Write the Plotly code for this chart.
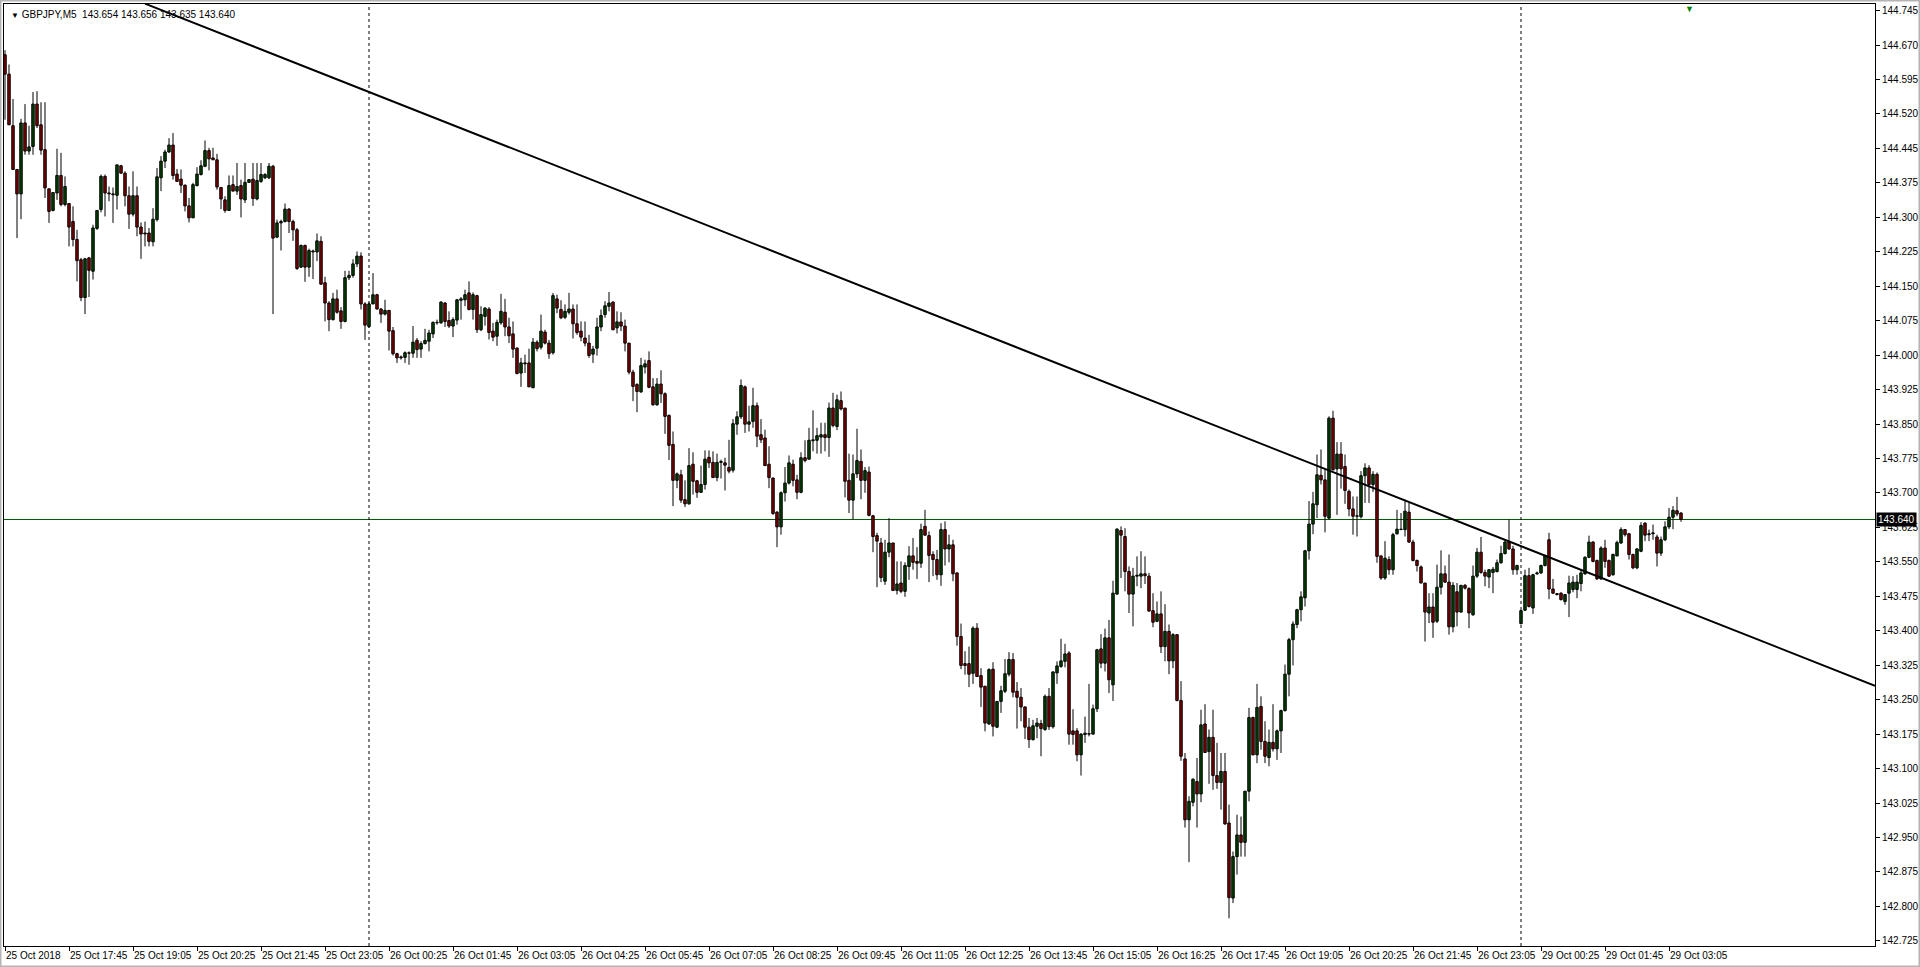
import numpy as np
import plotly.graph_objects as go

# GBPJPY M5 bars, 25 Oct 2018 16:25 -> 29 Oct 2018 03:20
opens = [
    144.649, 144.607, 144.495, 144.400, 144.347, 144.501, 144.440, 144.450, 144.542, 144.497,
    144.443, 144.358, 144.311, 144.349, 144.387, 144.324, 144.326, 144.287, 144.248, 144.204,
    144.122, 144.208, 144.179, 144.272, 144.313, 144.385, 144.349, 144.347, 144.344, 144.408,
    144.392, 144.343, 144.303, 144.343, 144.275, 144.262, 144.262, 144.243, 144.291, 144.382,
    144.418, 144.438, 144.453, 144.390, 144.379, 144.366, 144.321, 144.295, 144.365, 144.389,
    144.407, 144.441, 144.425, 144.421, 144.361, 144.334, 144.311, 144.367, 144.353, 144.365,
    144.334, 144.372, 144.379, 144.336, 144.374, 144.382, 144.382, 144.407, 144.253, 144.284,
    144.287, 144.314, 144.287, 144.269, 144.188, 144.235, 144.188, 144.223, 144.221, 144.244,
    144.154, 144.110, 144.074, 144.119, 144.093, 144.070, 144.165, 144.170, 144.195, 144.212,
    144.108, 144.059, 144.108, 144.128, 144.097, 144.086, 144.094, 144.050, 144.000, 143.993,
    143.992, 144.002, 144.001, 144.029, 144.010, 144.022, 144.027, 144.043, 144.068, 144.067,
    144.110, 144.072, 144.060, 144.073, 144.116, 144.117, 144.132, 144.096, 144.126, 144.052,
    144.081, 144.097, 144.049, 144.038, 144.067, 144.090, 144.058, 144.043, 144.012, 143.958,
    143.980, 143.980, 143.926, 144.025, 144.014, 144.047, 144.023, 144.002, 144.119, 144.096,
    144.079, 144.090, 144.097, 144.065, 144.049, 144.034, 144.023, 143.999, 144.012, 144.058,
    144.085, 144.103, 144.112, 144.056, 144.069, 144.060, 144.023, 143.960, 143.933, 143.917,
    143.971, 143.985, 143.928, 143.889, 143.934, 143.913, 143.866, 143.803, 143.725, 143.737,
    143.683, 143.674, 143.760, 143.724, 143.699, 143.716, 143.775, 143.764, 143.731, 143.764,
    143.763, 143.753, 143.747, 143.847, 143.863, 143.928, 143.847, 143.853, 143.887, 143.824,
    143.817, 143.760, 143.730, 143.656, 143.624, 143.698, 143.719, 143.760, 143.726, 143.699,
    143.774, 143.771, 143.811, 143.812, 143.819, 143.824, 143.818, 143.882, 143.842, 143.898,
    143.882, 143.725, 143.682, 143.739, 143.766, 143.725, 143.743, 143.648, 143.605, 143.589,
    143.506, 143.569, 143.589, 143.486, 143.502, 143.484, 143.538, 143.561, 143.549, 143.545,
    143.625, 143.605, 143.564, 143.553, 143.520, 143.618, 143.576, 143.585, 143.524, 143.386,
    143.327, 143.327, 143.306, 143.404, 143.301, 143.278, 143.196, 143.315, 143.189, 143.245,
    143.267, 143.304, 143.336, 143.267, 143.254, 143.233, 143.189, 143.162, 143.191, 143.197,
    143.184, 143.256, 143.190, 143.307, 143.321, 143.332, 143.350, 143.181, 143.181, 143.129,
    143.173, 143.175, 143.174, 143.229, 143.359, 143.328, 143.383, 143.281, 143.478, 143.616,
    143.603, 143.527, 143.478, 143.517, 143.517, 143.522, 143.517, 143.442, 143.419, 143.435,
    143.364, 143.397, 143.333, 143.390, 143.247, 143.120, 142.988, 143.026, 143.071, 143.044,
    143.196, 143.136, 143.167, 143.084, 143.069, 143.093, 142.981, 142.818, 142.908, 142.955,
    142.939, 143.050, 143.210, 143.129, 143.234, 143.158, 143.123, 143.156, 143.142, 143.181,
    143.225, 143.304, 143.379, 143.412, 143.444, 143.470, 143.572, 143.630, 143.672, 143.736,
    143.726, 143.643, 143.860, 143.750, 143.782, 143.755, 143.701, 143.663, 143.647, 143.646,
    143.735, 143.752, 143.716, 143.738, 143.561, 143.513, 143.553, 143.531, 143.609, 143.618,
    143.618, 143.656, 143.591, 143.551, 143.537, 143.502, 143.437, 143.450, 143.419, 143.493,
    143.522, 143.504, 143.407, 143.483, 143.439, 143.497, 143.490, 143.433, 143.517, 143.569,
    143.525, 143.515, 143.525, 143.527, 143.546, 143.566, 143.591, 143.576, 143.531, 143.414,
    143.443, 143.518, 143.448, 143.522, 143.524, 143.540, 143.596, 143.489, 143.479, 143.480,
    143.462, 143.480, 143.488, 143.488, 143.501, 143.522, 143.558, 143.591, 143.551, 143.511,
    143.578, 143.551, 143.520, 143.561, 143.589, 143.618, 143.609, 143.564, 143.535, 143.571,
    143.632, 143.607, 143.611, 143.602, 143.567, 143.596, 143.624, 143.645, 143.659, 143.654,
]

highs = [
    144.659, 144.628, 144.553, 144.400, 144.510, 144.542, 144.495, 144.568, 144.570, 144.546,
    144.546, 144.358, 144.350, 144.445, 144.436, 144.385, 144.327, 144.320, 144.269, 144.208,
    144.208, 144.210, 144.280, 144.311, 144.389, 144.389, 144.363, 144.361, 144.410, 144.410,
    144.396, 144.363, 144.396, 144.363, 144.285, 144.287, 144.273, 144.316, 144.403, 144.429,
    144.443, 144.468, 144.479, 144.401, 144.400, 144.367, 144.338, 144.371, 144.405, 144.420,
    144.463, 144.447, 144.447, 144.434, 144.361, 144.342, 144.387, 144.387, 144.414, 144.378,
    144.414, 144.379, 144.414, 144.414, 144.414, 144.392, 144.414, 144.410, 144.291, 144.291,
    144.326, 144.316, 144.291, 144.273, 144.237, 144.237, 144.228, 144.226, 144.261, 144.255,
    144.167, 144.114, 144.132, 144.139, 144.101, 144.180, 144.180, 144.205, 144.222, 144.220,
    144.112, 144.112, 144.175, 144.130, 144.099, 144.117, 144.094, 144.058, 144.002, 143.996,
    144.005, 144.005, 144.060, 144.034, 144.027, 144.054, 144.052, 144.070, 144.074, 144.114,
    144.112, 144.092, 144.079, 144.119, 144.123, 144.139, 144.157, 144.133, 144.128, 144.103,
    144.101, 144.101, 144.067, 144.074, 144.130, 144.119, 144.078, 144.070, 144.014, 143.991,
    143.998, 144.011, 144.034, 144.029, 144.085, 144.052, 144.030, 144.132, 144.128, 144.116,
    144.107, 144.132, 144.107, 144.107, 144.070, 144.070, 144.041, 144.017, 144.078, 144.096,
    144.114, 144.134, 144.114, 144.092, 144.090, 144.074, 144.023, 143.965, 143.936, 143.991,
    143.987, 144.005, 143.947, 143.947, 143.964, 143.916, 143.868, 143.831, 143.742, 143.748,
    143.725, 143.795, 143.786, 143.726, 143.757, 143.790, 143.790, 143.788, 143.783, 143.770,
    143.774, 143.813, 143.858, 143.875, 143.944, 143.931, 143.887, 143.926, 143.894, 143.858,
    143.835, 143.799, 143.731, 143.658, 143.701, 143.754, 143.779, 143.770, 143.737, 143.786,
    143.812, 143.839, 143.877, 143.839, 143.850, 143.850, 143.894, 143.915, 143.911, 143.918,
    143.882, 143.783, 143.781, 143.837, 143.792, 143.754, 143.755, 143.650, 143.611, 143.600,
    143.596, 143.643, 143.589, 143.549, 143.549, 143.547, 143.582, 143.600, 143.580, 143.631,
    143.661, 143.614, 143.571, 143.574, 143.632, 143.636, 143.607, 143.596, 143.525, 143.414,
    143.354, 143.364, 143.408, 143.415, 143.317, 143.278, 143.317, 143.330, 143.245, 143.279,
    143.337, 143.352, 143.350, 143.287, 143.274, 143.234, 143.209, 143.205, 143.209, 143.205,
    143.260, 143.274, 143.310, 143.332, 143.381, 143.370, 143.354, 143.228, 143.187, 143.176,
    143.212, 143.283, 143.238, 143.359, 143.391, 143.403, 143.422, 143.507, 143.621, 143.625,
    143.621, 143.538, 143.535, 143.560, 143.571, 143.560, 143.524, 143.480, 143.462, 143.484,
    143.456, 143.412, 143.393, 143.390, 143.289, 143.133, 143.039, 143.078, 143.122, 143.227,
    143.239, 143.184, 143.227, 143.155, 143.133, 143.133, 143.021, 142.919, 142.999, 142.995,
    143.050, 143.231, 143.212, 143.283, 143.256, 143.202, 143.184, 143.239, 143.184, 143.227,
    143.325, 143.383, 143.419, 143.446, 143.484, 143.574, 143.680, 143.700, 143.781, 143.792,
    143.748, 143.864, 143.876, 143.808, 143.808, 143.781, 143.705, 143.690, 143.690, 143.745,
    143.762, 143.758, 143.745, 143.742, 143.561, 143.593, 143.560, 143.611, 143.661, 143.654,
    143.683, 143.676, 143.596, 143.553, 143.540, 143.502, 143.480, 143.480, 143.542, 143.573,
    143.540, 143.564, 143.504, 143.502, 143.498, 143.500, 143.493, 143.540, 143.578, 143.602,
    143.531, 143.532, 143.537, 143.553, 143.583, 143.596, 143.640, 143.583, 143.542, 143.444,
    143.531, 143.535, 143.522, 143.527, 143.542, 143.564, 143.611, 143.511, 143.480, 143.482,
    143.478, 143.518, 143.517, 143.520, 143.531, 143.560, 143.605, 143.593, 143.553, 143.582,
    143.596, 143.553, 143.566, 143.594, 143.623, 143.619, 143.611, 143.566, 143.578, 143.634,
    143.634, 143.618, 143.629, 143.607, 143.603, 143.636, 143.665, 143.669, 143.689, 143.656,
]

lows = [
    144.508, 144.497, 144.400, 144.251, 144.292, 144.432, 144.432, 144.432, 144.490, 144.432,
    144.338, 144.284, 144.309, 144.334, 144.320, 144.320, 144.233, 144.233, 144.157, 144.114,
    144.086, 144.123, 144.161, 144.269, 144.307, 144.298, 144.331, 144.284, 144.313, 144.391,
    144.320, 144.271, 144.298, 144.255, 144.206, 144.233, 144.233, 144.233, 144.287, 144.353,
    144.403, 144.436, 144.378, 144.374, 144.349, 144.309, 144.285, 144.295, 144.363, 144.387,
    144.405, 144.398, 144.421, 144.356, 144.314, 144.306, 144.311, 144.353, 144.345, 144.296,
    144.327, 144.371, 144.321, 144.333, 144.371, 144.379, 144.379, 144.086, 144.251, 144.224,
    144.285, 144.262, 144.245, 144.182, 144.186, 144.156, 144.167, 144.162, 144.201, 144.150,
    144.070, 144.049, 144.072, 144.087, 144.054, 144.068, 144.160, 144.165, 144.188, 144.096,
    144.030, 144.056, 144.108, 144.096, 144.067, 144.083, 144.007, 143.996, 143.980, 143.987,
    143.980, 143.976, 143.991, 143.991, 143.991, 144.020, 144.005, 144.034, 144.063, 144.065,
    144.058, 144.056, 144.036, 144.063, 144.074, 144.103, 144.094, 144.074, 144.045, 144.049,
    144.061, 144.031, 144.027, 144.017, 144.063, 144.038, 144.023, 143.991, 143.955, 143.928,
    143.958, 143.928, 143.926, 144.005, 144.009, 144.020, 143.989, 143.998, 144.088, 144.075,
    144.075, 144.085, 144.033, 144.041, 144.027, 144.016, 143.991, 143.980, 143.996, 144.049,
    144.078, 144.092, 144.051, 144.044, 144.049, 144.005, 143.955, 143.897, 143.873, 143.915,
    143.957, 143.925, 143.887, 143.887, 143.893, 143.826, 143.769, 143.669, 143.708, 143.676,
    143.667, 143.672, 143.694, 143.687, 143.699, 143.705, 143.752, 143.730, 143.723, 143.729,
    143.703, 143.740, 143.742, 143.824, 143.858, 143.828, 143.831, 143.839, 143.797, 143.806,
    143.756, 143.708, 143.650, 143.580, 143.607, 143.679, 143.716, 143.712, 143.684, 143.697,
    143.764, 143.770, 143.788, 143.783, 143.783, 143.788, 143.776, 143.840, 143.834, 143.877,
    143.688, 143.654, 143.640, 143.730, 143.684, 143.698, 143.647, 143.569, 143.493, 143.504,
    143.498, 143.558, 143.486, 143.477, 143.480, 143.472, 143.509, 143.531, 143.511, 143.535,
    143.605, 143.504, 143.517, 143.509, 143.496, 143.540, 143.547, 143.506, 143.366, 143.315,
    143.303, 143.276, 143.283, 143.298, 143.233, 143.180, 143.194, 143.169, 143.187, 143.220,
    143.263, 143.299, 143.254, 143.186, 143.202, 143.163, 143.144, 143.160, 143.165, 143.126,
    143.181, 143.183, 143.186, 143.283, 143.318, 143.319, 143.151, 143.151, 143.115, 143.084,
    143.155, 143.169, 143.173, 143.222, 143.317, 143.310, 143.263, 143.246, 143.477, 143.513,
    143.484, 143.437, 143.408, 143.495, 143.491, 143.500, 143.441, 143.406, 143.417, 143.350,
    143.332, 143.304, 143.317, 143.245, 143.116, 142.971, 142.896, 143.017, 142.971, 143.026,
    143.133, 143.066, 143.053, 143.055, 143.010, 142.977, 142.774, 142.807, 142.869, 142.908,
    142.908, 143.028, 143.128, 143.111, 143.140, 143.111, 143.104, 143.136, 143.118, 143.133,
    143.223, 143.256, 143.323, 143.404, 143.419, 143.451, 143.553, 143.608, 143.643, 143.716,
    143.612, 143.640, 143.746, 143.650, 143.707, 143.674, 143.647, 143.607, 143.603, 143.642,
    143.676, 143.676, 143.700, 143.546, 143.509, 143.509, 143.520, 143.520, 143.607, 143.618,
    143.603, 143.589, 143.549, 143.527, 143.502, 143.375, 143.415, 143.383, 143.415, 143.477,
    143.502, 143.390, 143.395, 143.408, 143.438, 143.488, 143.404, 143.431, 143.513, 143.522,
    143.495, 143.491, 143.480, 143.525, 143.544, 143.564, 143.574, 143.520, 143.520, 143.412,
    143.441, 143.449, 143.435, 143.520, 143.522, 143.538, 143.467, 143.479, 143.475, 143.464,
    143.455, 143.428, 143.482, 143.469, 143.484, 143.520, 143.556, 143.547, 143.509, 143.509,
    143.535, 143.515, 143.518, 143.560, 143.587, 143.603, 143.553, 143.532, 143.532, 143.569,
    143.593, 143.593, 143.596, 143.538, 143.561, 143.593, 143.619, 143.619, 143.647, 143.635,
]

closes = [
    144.607, 144.497, 144.400, 144.347, 144.501, 144.440, 144.449, 144.542, 144.495, 144.442,
    144.360, 144.309, 144.350, 144.387, 144.324, 144.363, 144.275, 144.248, 144.202, 144.122,
    144.206, 144.181, 144.273, 144.311, 144.385, 144.349, 144.347, 144.345, 144.410, 144.392,
    144.343, 144.303, 144.343, 144.275, 144.260, 144.260, 144.244, 144.292, 144.384, 144.418,
    144.438, 144.453, 144.387, 144.374, 144.366, 144.321, 144.295, 144.367, 144.390, 144.408,
    144.441, 144.423, 144.421, 144.362, 144.336, 144.311, 144.365, 144.353, 144.363, 144.336,
    144.372, 144.378, 144.337, 144.376, 144.389, 144.389, 144.407, 144.251, 144.284, 144.287,
    144.314, 144.287, 144.269, 144.185, 144.235, 144.188, 144.224, 144.221, 144.245, 144.151,
    144.110, 144.074, 144.119, 144.090, 144.070, 144.165, 144.170, 144.195, 144.212, 144.108,
    144.062, 144.108, 144.128, 144.097, 144.086, 144.094, 144.049, 144.000, 143.991, 143.991,
    144.002, 144.001, 144.025, 144.009, 144.022, 144.029, 144.045, 144.068, 144.067, 144.112,
    144.070, 144.060, 144.074, 144.117, 144.119, 144.128, 144.096, 144.128, 144.052, 144.085,
    144.099, 144.046, 144.036, 144.068, 144.092, 144.058, 144.039, 144.010, 143.957, 143.980,
    143.978, 143.928, 144.025, 144.011, 144.049, 144.023, 144.000, 144.126, 144.099, 144.078,
    144.092, 144.097, 144.065, 144.046, 144.036, 144.023, 143.996, 144.010, 144.058, 144.083,
    144.104, 144.110, 144.052, 144.069, 144.060, 144.023, 143.960, 143.929, 143.918, 143.974,
    143.978, 143.927, 143.889, 143.934, 143.913, 143.864, 143.801, 143.725, 143.739, 143.682,
    143.674, 143.757, 143.723, 143.699, 143.716, 143.771, 143.763, 143.731, 143.764, 143.766,
    143.758, 143.745, 143.848, 143.863, 143.931, 143.847, 143.852, 143.887, 143.821, 143.813,
    143.757, 143.731, 143.653, 143.624, 143.698, 143.719, 143.763, 143.725, 143.699, 143.774,
    143.768, 143.812, 143.813, 143.822, 143.824, 143.818, 143.882, 143.844, 143.900, 143.880,
    143.723, 143.682, 143.739, 143.768, 143.725, 143.746, 143.649, 143.603, 143.593, 143.514,
    143.569, 143.589, 143.486, 143.500, 143.484, 143.540, 143.561, 143.547, 143.545, 143.618,
    143.606, 143.562, 143.553, 143.520, 143.618, 143.576, 143.585, 143.522, 143.386, 143.323,
    143.323, 143.304, 143.404, 143.299, 143.276, 143.198, 143.314, 143.191, 143.245, 143.268,
    143.305, 143.336, 143.265, 143.254, 143.233, 143.189, 143.162, 143.192, 143.198, 143.186,
    143.256, 143.190, 143.309, 143.322, 143.333, 143.348, 143.174, 143.173, 143.129, 143.174,
    143.176, 143.174, 143.229, 143.357, 143.328, 143.383, 143.292, 143.480, 143.619, 143.606,
    143.527, 143.478, 143.517, 143.519, 143.522, 143.518, 143.441, 143.417, 143.435, 143.364,
    143.397, 143.333, 143.390, 143.247, 143.126, 142.988, 143.028, 143.076, 143.044, 143.194,
    143.134, 143.167, 143.084, 143.069, 143.093, 142.979, 142.819, 142.908, 142.955, 142.939,
    143.050, 143.210, 143.129, 143.232, 143.158, 143.126, 143.156, 143.142, 143.181, 143.225,
    143.304, 143.379, 143.413, 143.444, 143.472, 143.572, 143.630, 143.674, 143.737, 143.726,
    143.647, 143.860, 143.748, 143.782, 143.750, 143.703, 143.663, 143.647, 143.648, 143.735,
    143.752, 143.716, 143.738, 143.560, 143.513, 143.556, 143.531, 143.607, 143.619, 143.619,
    143.658, 143.591, 143.551, 143.540, 143.502, 143.439, 143.450, 143.417, 143.493, 143.522,
    143.504, 143.407, 143.497, 143.439, 143.497, 143.491, 143.437, 143.517, 143.569, 143.525,
    143.517, 143.531, 143.532, 143.546, 143.566, 143.591, 143.576, 143.531, 143.540, 143.442,
    143.518, 143.451, 143.520, 143.524, 143.540, 143.561, 143.489, 143.480, 143.477, 143.466,
    143.477, 143.502, 143.504, 143.504, 143.524, 143.558, 143.591, 143.549, 143.511, 143.578,
    143.549, 143.517, 143.564, 143.590, 143.618, 143.607, 143.564, 143.535, 143.576, 143.627,
    143.606, 143.609, 143.609, 143.567, 143.596, 143.624, 143.645, 143.660, 143.652, 143.640,
]

time_labels = [
    "25 Oct 2018", "25 Oct 17:45", "25 Oct 19:05", "25 Oct 20:25", "25 Oct 21:45",
    "25 Oct 23:05", "26 Oct 00:25", "26 Oct 01:45", "26 Oct 03:05", "26 Oct 04:25",
    "26 Oct 05:45", "26 Oct 07:05", "26 Oct 08:25", "26 Oct 09:45", "26 Oct 11:05",
    "26 Oct 12:25", "26 Oct 13:45", "26 Oct 15:05", "26 Oct 16:25", "26 Oct 17:45",
    "26 Oct 19:05", "26 Oct 20:25", "26 Oct 21:45", "26 Oct 23:05", "29 Oct 00:25",
    "29 Oct 01:45", "29 Oct 03:05",
]
price_labels = [
    "142.725", "142.800", "142.875", "142.950", "143.025", "143.100", "143.175",
    "143.250", "143.325", "143.400", "143.475", "143.550", "143.625", "143.700",
    "143.775", "143.850", "143.925", "144.000", "144.075", "144.150", "144.225",
    "144.300", "144.375", "144.445", "144.520", "144.595", "144.670", "144.745",
]

day_separators = [91, 379]          # bar index of 26 Oct 00:00 and 29 Oct 00:00
trend_x = [35, 467.5]               # hand-drawn trendline anchor points
trend_y = [144.760, 143.279]
bid = 143.640
symbol = "GBPJPY,M5"

bars = list(range(len(closes)))
FONT = "Liberation Sans, Arial, sans-serif"
BULL = "#008000"
BEAR = "#ff0000"

# wicks: one vertical segment per bar
wick_x, wick_y = [], []
for i in bars:
    wick_x += [i, i, None]
    wick_y += [lows[i], highs[i], None]

body_base = [min(o, c) for o, c in zip(opens, closes)]
body_size = [max(abs(c - o), 0.0004) for o, c in zip(opens, closes)]
body_color = [BULL if c > o else BEAR for o, c in zip(opens, closes)]

fig = go.Figure()

fig.add_trace(go.Scatter(
    x=wick_x, y=wick_y, mode="lines",
    line=dict(color="black", width=1),
    hoverinfo="skip", showlegend=False,
))

fig.add_trace(go.Bar(
    x=bars, y=body_size, base=body_base, width=0.62,
    marker=dict(color=body_color, line=dict(color="black", width=1)),
    hoverinfo="skip", showlegend=False,
))

# plot area is 1871 x 942 px inside the 1920 x 967 page
PW, PH = 1871, 942
shapes = [
    # bid line
    dict(type="line", xref="paper", x0=0, x1=1, yref="y", y0=bid, y1=bid,
         line=dict(color="#005a00", width=1), layer="below"),
    # trendline
    dict(type="line", xref="x", yref="y", x0=trend_x[0], y0=trend_y[0],
         x1=trend_x[1], y1=trend_y[1], line=dict(color="black", width=2)),
    # grey window frame
    dict(type="rect", xref="paper", yref="paper",
         x0=-4 / PW, x1=1 + 45 / PW, y0=-21 / PH, y1=1 + 4 / PH,
         line=dict(color="#b4b4b4", width=3), fillcolor="rgba(0,0,0,0)"),
]
for d in day_separators:
    shapes.append(dict(type="line", xref="x", yref="paper", x0=d, x1=d, y0=0, y1=1,
                       line=dict(color="black", width=1, dash="3px,3px"), layer="below"))

annotations = [
    dict(xref="paper", yref="paper", x=0, y=1, xanchor="left", yanchor="top",
         xshift=5, yshift=-3, showarrow=False, align="left",
         text=f"<span style='font-size:8px'>▼</span> {symbol}  "
              f"{opens[-1]:.3f} {highs[-1]:.3f} {lows[-1]:.3f} {closes[-1]:.3f}",
         font=dict(family=FONT, size=10, color="black")),
    dict(xref="paper", yref="y", x=1, y=bid, xanchor="left", yanchor="middle",
         xshift=1, showarrow=False, text=f"{bid:.3f}", bgcolor="black",
         borderpad=1, font=dict(family=FONT, size=10, color="white")),
    dict(xref="x", yref="paper", x=len(closes) + 1, y=1, xanchor="center",
         yanchor="top", yshift=2, showarrow=False, text="▼",
         font=dict(family=FONT, size=9, color=BULL)),
]

fig.update_layout(
    width=1920,
    height=967,
    margin=dict(l=4, r=45, t=4, b=21, autoexpand=False),
    paper_bgcolor="white",
    plot_bgcolor="white",
    font=dict(family=FONT, size=10, color="black"),
    barmode="overlay",
    shapes=shapes,
    annotations=annotations,
    xaxis=dict(
        range=[-0.25, 467.5],
        tickmode="array",
        tickvals=[16 * k for k in range(len(time_labels))],
        ticktext=time_labels,
        tickangle=0,
        ticks="outside",
        ticklen=4,
        tickcolor="black",
        ticklabelposition="outside right",
        showgrid=False,
        zeroline=False,
        showline=True,
        linecolor="black",
        linewidth=1,
        mirror=True,
        fixedrange=True,
    ),
    yaxis=dict(
        side="right",
        range=[142.7139, 144.7593],
        tickmode="array",
        tickvals=list(np.linspace(142.725, 144.745, len(price_labels))),
        ticktext=price_labels,
        ticks="outside",
        ticklen=4,
        tickcolor="black",
        showgrid=False,
        zeroline=False,
        showline=True,
        linecolor="black",
        linewidth=1,
        mirror=True,
        fixedrange=True,
    ),
)

fig.write_html("out.html", config=dict(displayModeBar=False),
               post_script="document.body.style.margin='0';")
